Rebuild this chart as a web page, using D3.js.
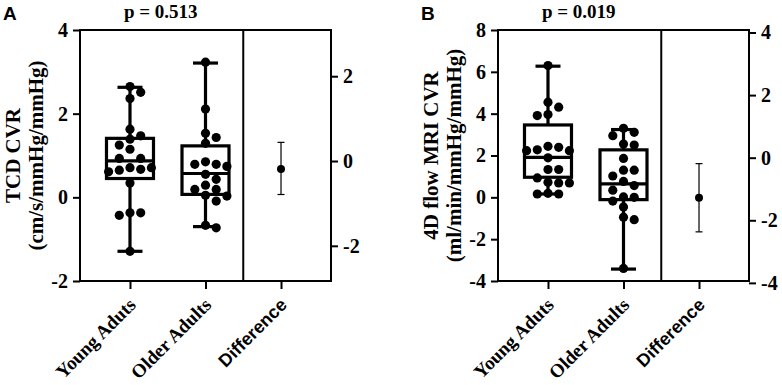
<!DOCTYPE html>
<html lang="en">
<head>
<meta charset="UTF-8">
<title>CVR estimation plots</title>
<script src="https://d3js.org/d3.v7.min.js"></script>
<style>
  body { margin: 0; background: #fff; }
</style>
</head>
<body>
<svg width="782" height="385"></svg>
<script>
    // categories along x
    const categories = ["Young Aduts", "Older Adults", "Difference"];

    // Panel A: TCD CVR
    const youngA = [2.65, 2.51, 2.36, 1.63, 1.47, 1.39, 1.25, 1.15, 0.93, 0.93, 0.71, 0.71, 0.67, 0.65, 0.61, 0.34, -0.37, -0.37, -0.43, -1.29];
    const olderA = [3.23, 2.11, 1.53, 1.43, 1.29, 0.85, 0.79, 0.79, 0.74, 0.55, 0.43, 0.29, 0.19, 0.19, 0.05, 0.03, -0.09, -0.67, -0.73];
    // min, q1, median, q3, max
    const youngBoxA = [-1.29, 0.45, 0.87, 1.41, 2.63];
    const olderBoxA = [-0.70, 0.07, 0.57, 1.23, 3.21];
    // low, mean, high (right axis)
    const diffA = [-0.79, -0.19, 0.44];
    const leftDomainA = [-2, 4];
    const leftTicksA = [-2, 0, 2, 4];
    const rightDomainA = [-2.83, 3.09];
    const rightTicksA = [-2, 0, 2];

    // Panel B: 4D flow MRI CVR
    const youngB = [6.30, 4.55, 4.31, 3.96, 3.91, 2.44, 2.39, 2.27, 2.23, 2.23, 1.89, 1.33, 1.33, 0.93, 0.72, 0.69, 0.69, 0.19, 0.16, 0.16];
    const olderB = [3.30, 3.11, 2.95, 2.55, 2.50, 1.86, 1.30, 1.30, 1.02, 0.76, 0.56, 0.34, 0.02, 0.00, -0.18, -0.46, -0.95, -1.07, -3.40];
    const youngBoxB = [0.16, 0.96, 1.91, 3.46, 6.27];
    const olderBoxB = [-3.43, -0.11, 0.64, 2.27, 3.24];
    const diffB = [-2.37, -1.28, -0.19];
    const leftDomainB = [-4, 8];
    const leftTicksB = [-4, -2, 0, 2, 4, 6, 8];
    const rightDomainB = [-3.94, 4.08];
    const rightTicksB = [-4, -2, 0, 2, 4];

    const serif = "'Liberation Serif', 'Times New Roman', serif";
    const sans = "'Liberation Sans', Arial, sans-serif";

    const svg = d3.select("svg");
    svg.append("rect").attr("width", 782).attr("height", 385).attr("fill", "#fff");

    const W = 251, H = 251;

    // simple greedy beeswarm, columns of fixed spacing
    function swarm(values, y) {
        const placed = [];
        const order = [0, 1, -1, 2, -2, 3, -3];
        values.slice().sort((a, b) => b - a).forEach(v => {
            const py = y(v);
            const col = order.find(c => !placed.some(p => p.col === c && Math.abs(p.py - py) < 10));
            placed.push({ v, py, col });
        });
        return placed;
    }

    function drawPanel(cfg) {
        const g = svg.append("g").attr("transform", `translate(${cfg.left},${cfg.top})`);

        const x = d3.scalePoint().domain(categories).range([0, W]).padding(0.662);
        const y = d3.scaleLinear().domain(cfg.leftDomain).range([H, 0]);
        const yR = d3.scaleLinear().domain(cfg.rightDomain).range([H, 0]);

        // frame
        g.append("rect").attr("width", W).attr("height", H)
            .attr("fill", "none").attr("stroke", "#000").attr("stroke-width", 2);
        const divX = (x(categories[1]) + x(categories[2])) / 2;
        g.append("line").attr("x1", divX).attr("x2", divX).attr("y1", 0).attr("y2", H)
            .attr("stroke", "#000").attr("stroke-width", 2);

        const fmt = d => String(d);
        // left axis
        const la = g.append("g").call(d3.axisLeft(y).tickValues(cfg.leftTicks).tickFormat(fmt).tickSize(7).tickPadding(5));
        // right axis
        const ra = g.append("g").attr("transform", `translate(${W},0)`)
            .call(d3.axisRight(yR).tickValues(cfg.rightTicks).tickFormat(fmt).tickSize(7).tickPadding(5));
        // bottom axis
        const ba = g.append("g").attr("transform", `translate(0,${H})`)
            .call(d3.axisBottom(x).tickSize(8).tickFormat(""));
        [la, ra, ba].forEach(a => {
            a.select(".domain").remove();
            a.selectAll("line").attr("stroke-width", 2);
            a.selectAll("text").attr("font-family", serif).attr("font-weight", "bold")
                .attr("font-size", 20).attr("fill", "#000");
        });

        // category labels
        categories.forEach((c, i) => {
            g.append("text")
                .attr("transform", `translate(${x(c) + 7},${H + 25}) rotate(-45)`)
                .attr("text-anchor", "end")
                .attr("font-family", i === 2 ? sans : serif)
                .attr("font-weight", "bold")
                .attr("font-size", i === 2 ? 18 : 19)
                .text(c);
        });

        // box plots
        [[categories[0], cfg.youngBox, cfg.young], [categories[1], cfg.olderBox, cfg.older]].forEach(([c, b, vals]) => {
            const cx = x(c);
            const lw = 3.2;
            g.append("line").attr("x1", cx).attr("x2", cx).attr("y1", y(b[3])).attr("y2", y(b[4]))
                .attr("stroke", "#000").attr("stroke-width", lw);
            g.append("line").attr("x1", cx).attr("x2", cx).attr("y1", y(b[0])).attr("y2", y(b[1]))
                .attr("stroke", "#000").attr("stroke-width", lw);
            [b[0], b[4]].forEach(v => {
                g.append("line").attr("x1", cx - 12.5).attr("x2", cx + 12.5).attr("y1", y(v)).attr("y2", y(v))
                    .attr("stroke", "#000").attr("stroke-width", lw);
            });
            g.append("rect").attr("x", cx - 23.5).attr("width", 47)
                .attr("y", y(b[3])).attr("height", y(b[1]) - y(b[3]))
                .attr("fill", "none").attr("stroke", "#000").attr("stroke-width", lw);
            g.append("line").attr("x1", cx - 23.5).attr("x2", cx + 23.5).attr("y1", y(b[2])).attr("y2", y(b[2]))
                .attr("stroke", "#000").attr("stroke-width", lw);

            g.selectAll(null).data(swarm(vals, y)).enter().append("circle")
                .attr("cx", d => cx + d.col * 10.7)
                .attr("cy", d => d.py)
                .attr("r", 4.6)
                .attr("fill", "#000");
        });

        // difference with CI
        const dx = x(categories[2]);
        const d = cfg.diff;
        g.append("line").attr("x1", dx).attr("x2", dx).attr("y1", yR(d[0])).attr("y2", yR(d[2]))
            .attr("stroke", "#000").attr("stroke-width", 1.2);
        [d[0], d[2]].forEach(v => {
            g.append("line").attr("x1", dx - 3.5).attr("x2", dx + 3.5).attr("y1", yR(v)).attr("y2", yR(v))
                .attr("stroke", "#000").attr("stroke-width", 1.2);
        });
        g.append("circle").attr("cx", dx).attr("cy", yR(d[1])).attr("r", 4).attr("fill", "#000");

        // y label
        const yl = g.append("text")
            .attr("transform", `translate(${-67},${H / 2}) rotate(-90)`)
            .attr("text-anchor", "middle")
            .attr("font-family", serif).attr("font-weight", "bold").attr("font-size", 21);
        yl.append("tspan").attr("x", 0).attr("dy", 7).text(cfg.yLabel[0]);
        yl.append("tspan").attr("x", 0).attr("dy", 23).text(cfg.yLabel[1]);

        // p value
        g.append("text").attr("x", (x(categories[0]) + x(categories[1])) / 2 - 7).attr("y", -12)
            .attr("text-anchor", "middle")
            .attr("font-family", serif).attr("font-weight", "bold").attr("font-size", 19)
            .text(cfg.p);

        // panel letter
        svg.append("text").attr("x", cfg.letterX).attr("y", 20)
            .attr("font-family", sans).attr("font-weight", "bold").attr("font-size", 19)
            .text(cfg.letter);
    }

    drawPanel({
        left: 80, top: 30, letter: "A", letterX: 3, p: "p = 0.513",
        yLabel: ["TCD CVR", "(cm/s/mmHg/mmHg)"],
        young: youngA, older: olderA, youngBox: youngBoxA, olderBox: olderBoxA, diff: diffA,
        leftDomain: leftDomainA, leftTicks: leftTicksA, rightDomain: rightDomainA, rightTicks: rightTicksA
    });

    drawPanel({
        left: 498, top: 30, letter: "B", letterX: 421, p: "p = 0.019",
        yLabel: ["4D flow MRI CVR", "(ml/min/mmHg/mmHg)"],
        young: youngB, older: olderB, youngBox: youngBoxB, olderBox: olderBoxB, diff: diffB,
        leftDomain: leftDomainB, leftTicks: leftTicksB, rightDomain: rightDomainB, rightTicks: rightTicksB
    });
</script>
</body>
</html>
